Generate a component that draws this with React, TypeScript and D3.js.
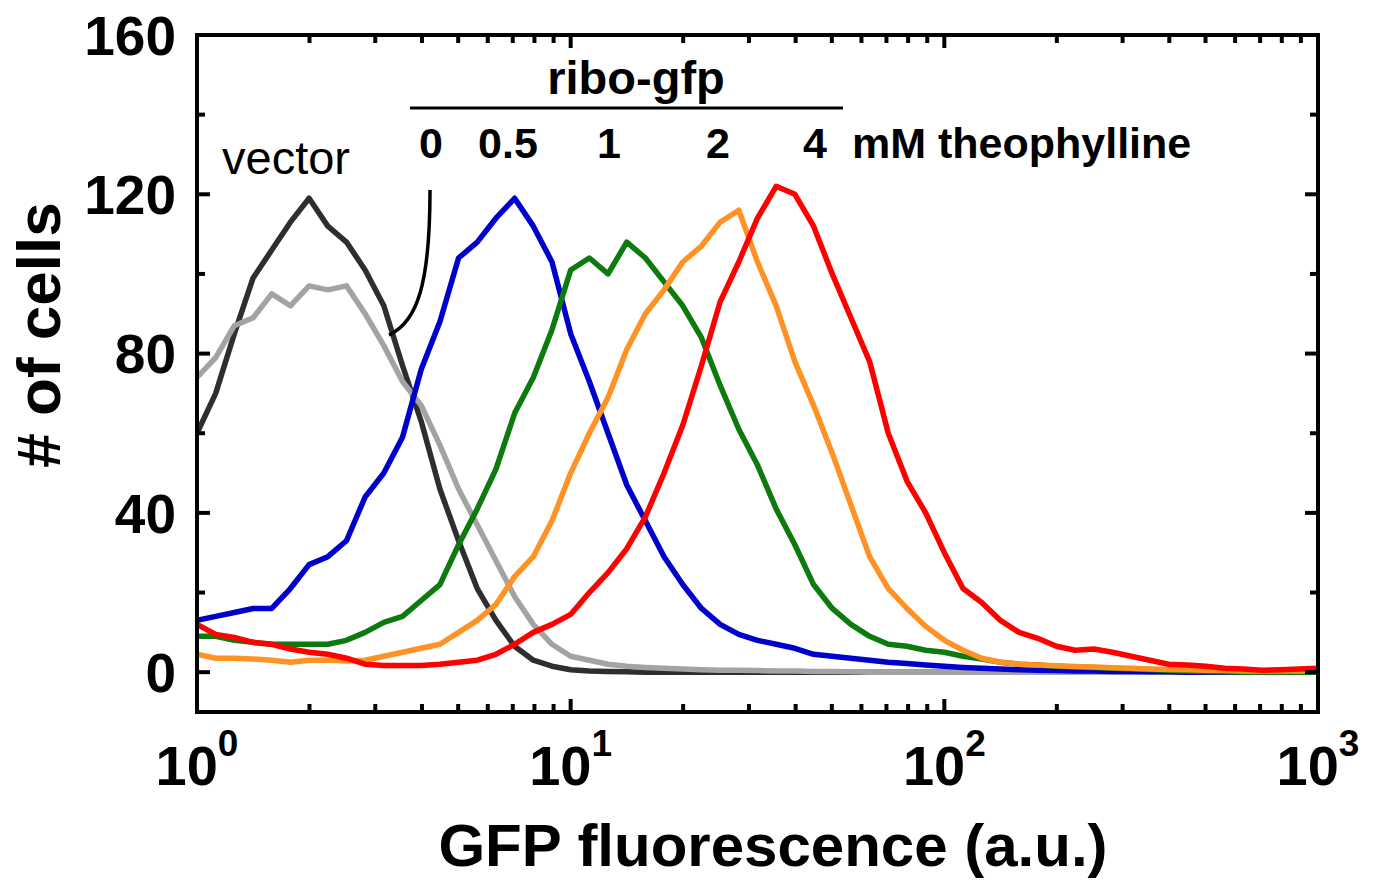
import React from 'react';
import * as d3 from 'd3';

// Histogram bin centres (GFP fluorescence, a.u.), log-spaced 1 .. 1000
const fluorescence = [
  1, 1.122, 1.259, 1.413, 1.585, 1.778, 1.995, 2.239, 2.512, 2.818,
  3.162, 3.548, 3.981, 4.467, 5.012, 5.623, 6.31, 7.079, 7.943, 8.913,
  10, 11.22, 12.59, 14.13, 15.85, 17.78, 19.95, 22.39, 25.12, 28.18,
  31.62, 35.48, 39.81, 44.67, 50.12, 56.23, 63.1, 70.79, 79.43, 89.13,
  100, 112.2, 125.9, 141.3, 158.5, 177.8, 199.5, 223.9, 251.2, 281.8,
  316.2, 354.8, 398.1, 446.7, 501.2, 562.3, 631, 707.9, 794.3, 891.3, 1000,
];

// # of cells per bin
const vectorCounts = [
  60, 70, 85, 99, 106, 113, 119, 112, 108, 101, 92, 77, 63, 46, 33, 21, 13, 6.5, 3, 1.5,
  0.6, 0.3, 0.2, 0.1, 0, 0, 0, 0, 0, 0, 0, 0, 0, 0, 0, 0, 0, 0, 0, 0,
  0, 0, 0, 0, 0, 0, 0, 0, 0, 0, 0, 0, 0, 0, 0, 0, 0, 0, 0, 0, 0,
];
const theo0Counts = [
  74, 79, 87, 89, 95, 92, 97, 96, 97, 90, 82, 73, 67, 57, 46, 37, 28, 19, 12, 7,
  4, 3, 2, 1.5, 1.2, 1, 0.8, 0.6, 0.5, 0.5, 0.4, 0.3, 0.3, 0.2, 0.2, 0.1, 0, 0, 0, 0,
  0, 0, 0, 0, 0, 0, 0, 0, 0, 0, 0, 0, 0, 0, 0, 0, 0, 0, 0, 0, 0,
];
const theo05Counts = [
  13, 14, 15, 16, 16, 21, 27, 29, 33, 44, 50, 59, 76, 88, 104, 108, 114, 119, 112, 103,
  85, 73, 60, 47, 38, 29, 22, 16, 12, 9.5, 8, 7, 6, 4.5, 4, 3.5, 3, 2.5, 2.2, 1.8,
  1.5, 1.2, 1, 0.8, 0.6, 0.5, 0.4, 0.3, 0.3, 0.2, 0.2, 0.1, 0.1, 0, 0, 0, 0, 0, 0, 0, 0,
];
const theo1Counts = [
  9, 9, 8, 7.5, 7, 7, 7, 7, 8, 10, 12.5, 14, 18, 22, 32, 41, 51, 65, 74, 86,
  101, 104, 100, 108, 104, 98, 92, 84, 72, 61, 52, 41, 32, 22, 16, 12, 9, 7, 6.5, 5.5,
  5, 4, 3.3, 2.5, 2, 1.8, 1.5, 1.3, 1.2, 1, 0.8, 0.7, 0.5, 0.3, 0.2, 0.1, 0, 0, 0, 0, 0,
];
const theo2Counts = [
  4.5, 3.5, 3.5, 3.3, 3, 2.5, 3, 3, 2.8, 3, 4, 5, 6, 7, 10, 13, 17, 24, 29, 38,
  50, 60, 69, 81, 90, 96, 103, 107, 113, 116, 103, 92, 78, 67, 55, 42, 29, 21, 16, 11.5,
  8, 5.5, 3.5, 2.5, 2, 1.8, 1.6, 1.4, 1.3, 1.1, 1, 0.8, 0.7, 0.6, 0.5, 0.4, 0.3, 0.3, 0.3, 0.3, 0.3,
];
const theo4Counts = [
  12, 9.5, 8.7, 7.5, 7, 5.8, 5, 4.5, 3.5, 2, 1.7, 1.7, 1.7, 2, 2.5, 3, 4.5, 7, 10, 12,
  14.5, 20, 25, 31, 39, 50, 62, 77, 93, 103, 114, 122, 120, 112, 100, 89, 78, 60, 48, 40,
  30, 21, 17.5, 13, 10, 8.5, 6.5, 5.5, 5.8, 5, 4, 3, 2, 1.8, 1.5, 1, 0.8, 0.5, 0.6, 0.8, 1,
];

const seriesList = [
  { name: 'vector', values: vectorCounts, color: '#2e2e2e' },
  { name: '0', values: theo0Counts, color: '#a3a3a3' },
  { name: '0.5', values: theo05Counts, color: '#0000cc' },
  { name: '1', values: theo1Counts, color: '#0d7a0d' },
  { name: '2', values: theo2Counts, color: '#ff9224' },
  { name: '4', values: theo4Counts, color: '#ff0000' },
];

const yMajorTicks = [0, 40, 80, 120, 160];
const yMinorTicks = [20, 60, 100, 140];
const xMajorTicks = [1, 10, 100, 1000];
const xMajorExponents = ['0', '1', '2', '3'];
const xMinorTicks = [2, 3, 4, 5, 6, 7, 8, 9, 20, 30, 40, 50, 60, 70, 80, 90, 200, 300, 400, 500, 600, 700, 800, 900];

const concLabels = ['0', '0.5', '1', '2', '4'];
const concLabelX = [431, 508, 609, 718, 815];

const FONT = '"Liberation Sans", Arial, Helvetica, sans-serif';

export default function App() {
  const W = 1374;
  const H = 884;
  const left = 197, right = 1318, top = 35, bottom = 712;

  const x = d3.scaleLog().domain([1, 1000]).range([left, right]);
  const y = d3.scaleLinear().domain([-10, 160]).range([bottom, top]);

  const line = d3
    .line<number>()
    .x((_, i) => x(fluorescence[i]))
    .y((d) => y(d))
    .curve(d3.curveLinear);

  const tickW = 4;
  const majorLen = 13;
  const minorLen = 8;

  return (
    <svg
      width={W}
      height={H}
      style={{ position: 'absolute', left: 0, top: 0, background: '#fff' }}
      fontFamily={FONT}
    >
      <defs>
        <clipPath id="plotClip">
          <rect x={left} y={top} width={right - left} height={bottom - top} />
        </clipPath>
      </defs>

      {/* data */}
      <g clipPath="url(#plotClip)">
        {seriesList.map((s) => (
          <path
            key={s.name}
            d={line(s.values) || ''}
            fill="none"
            stroke={s.color}
            strokeWidth={5.5}
            strokeLinejoin="round"
          />
        ))}
      </g>

      {/* ticks */}
      <g stroke="#000" strokeWidth={tickW}>
        {yMajorTicks.map((t) => (
          <g key={'ym' + t}>
            <line x1={left} x2={left + majorLen} y1={y(t)} y2={y(t)} />
            <line x1={right} x2={right - majorLen} y1={y(t)} y2={y(t)} />
          </g>
        ))}
        {yMinorTicks.map((t) => (
          <g key={'yn' + t}>
            <line x1={left} x2={left + minorLen} y1={y(t)} y2={y(t)} />
            <line x1={right} x2={right - minorLen} y1={y(t)} y2={y(t)} />
          </g>
        ))}
        {xMajorTicks.map((t) => (
          <g key={'xm' + t}>
            <line x1={x(t)} x2={x(t)} y1={bottom} y2={bottom - majorLen} />
            <line x1={x(t)} x2={x(t)} y1={top} y2={top + majorLen} />
          </g>
        ))}
        {xMinorTicks.map((t) => (
          <g key={'xn' + t}>
            <line x1={x(t)} x2={x(t)} y1={bottom} y2={bottom - minorLen} />
            <line x1={x(t)} x2={x(t)} y1={top} y2={top + minorLen} />
          </g>
        ))}
      </g>

      {/* frame */}
      <rect
        x={left}
        y={top}
        width={right - left}
        height={bottom - top}
        fill="none"
        stroke="#000"
        strokeWidth={4}
      />

      {/* y tick labels */}
      {yMajorTicks.map((t) => (
        <text
          key={'yl' + t}
          x={176}
          y={y(t)}
          dy="0.36em"
          textAnchor="end"
          fontSize={55}
          fontWeight="bold"
        >
          {t}
        </text>
      ))}

      {/* x tick labels */}
      {xMajorTicks.map((t, i) => (
        <text
          key={'xl' + t}
          x={x(t)}
          y={785}
          textAnchor="middle"
          fontSize={56}
          fontWeight="bold"
        >
          10
          <tspan fontSize={37} dy={-29}>
            {xMajorExponents[i]}
          </tspan>
        </text>
      ))}

      {/* axis titles */}
      <text x={773} y={866} textAnchor="middle" fontSize={60} fontWeight="bold">
        GFP fluorescence (a.u.)
      </text>
      <text
        transform="translate(60,335) rotate(-90)"
        textAnchor="middle"
        fontSize={62}
        fontWeight="bold"
      >
        # of cells
      </text>

      {/* annotations */}
      <text x={222} y={174} fontSize={47}>
        vector
      </text>
      <text x={636} y={94} textAnchor="middle" fontSize={47} fontWeight="bold">
        ribo-gfp
      </text>
      <line x1={410} x2={843} y1={108} y2={108} stroke="#000" strokeWidth={3} />
      {concLabels.map((c, i) => (
        <text
          key={'c' + c}
          x={concLabelX[i]}
          y={158}
          textAnchor="middle"
          fontSize={43}
          fontWeight="bold"
        >
          {c}
        </text>
      ))}
      <text x={852} y={158} fontSize={43} fontWeight="bold">
        mM theophylline
      </text>
      <path
        d="M430,190 C430,285 417,322 389,335"
        fill="none"
        stroke="#000"
        strokeWidth={3.5}
      />
    </svg>
  );
}
